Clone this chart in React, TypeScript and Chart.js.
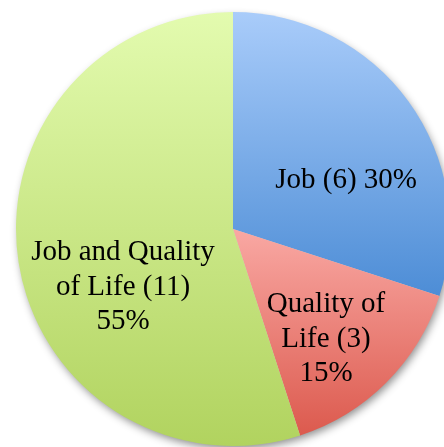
import React, { useEffect, useRef } from "react";
import { Chart, registerables } from "chart.js";

Chart.register(...registerables);

const categories = ["Job", "Quality of Life", "Job and Quality of Life"];
const counts = [6, 3, 11];
const percents = ["30%", "15%", "55%"];
const labelLines = [
  ["Job (6) 30%"],
  ["Quality of", "Life (3)", "15%"],
  ["Job and Quality", "of Life (11)", "55%"],
];
const gradientTop = ["#A9CCFA", "#F9A8A3", "#E3FBAF"];
const gradientBottom = ["#4D8DD6", "#DC5A4E", "#B1D35F"];
// label anchor: shift from slice mid-angle (degrees) and fraction of radius
const labelAngleShift = [12.6, 4.8, -18.8];
const labelRadiusFrac = [0.568, 0.664, 0.573];

function sliceYRange(a: any) {
  const { x, y, startAngle, endAngle, outerRadius } = a;
  const ys = [y, y + outerRadius * Math.sin(startAngle), y + outerRadius * Math.sin(endAngle)];
  const norm = (t: number) => {
    let v = t;
    while (v < startAngle) v += Math.PI * 2;
    return v;
  };
  if (norm(-Math.PI / 2) <= endAngle) ys.push(y - outerRadius);
  if (norm(Math.PI / 2) <= endAngle) ys.push(y + outerRadius);
  return [Math.min(...ys), Math.max(...ys)];
}

const gradientPlugin = {
  id: "sliceGradients",
  beforeDatasetsDraw(chart: any) {
    const meta = chart.getDatasetMeta(0);
    const ctx = chart.ctx;
    const first = meta.data[0];
    if (!first) return;
    // shadow under the whole pie
    ctx.save();
    ctx.shadowColor = "rgba(0,0,0,0.45)";
    ctx.shadowBlur = 9;
    ctx.shadowOffsetX = 2;
    ctx.shadowOffsetY = 4;
    ctx.fillStyle = "#cccccc";
    ctx.beginPath();
    ctx.arc(first.x, first.y, first.outerRadius - 1, 0, Math.PI * 2);
    ctx.fill();
    ctx.restore();
    meta.data.forEach((arc: any, i: number) => {
      const [y0, y1] = sliceYRange(arc);
      const g = ctx.createLinearGradient(0, y0, 0, y1);
      g.addColorStop(0, gradientTop[i]);
      g.addColorStop(1, gradientBottom[i]);
      arc.options.backgroundColor = g;
    });
  },
  afterDatasetsDraw(chart: any) {
    const meta = chart.getDatasetMeta(0);
    const ctx = chart.ctx;
    ctx.save();
    ctx.fillStyle = "#000000";
    ctx.font = '29px "Liberation Serif", "Times New Roman", serif';
    ctx.textAlign = "center";
    ctx.textBaseline = "middle";
    const lineH = 34.5;
    meta.data.forEach((arc: any, i: number) => {
      const mid = (arc.startAngle + arc.endAngle) / 2 + (labelAngleShift[i] * Math.PI) / 180;
      const r = arc.outerRadius * labelRadiusFrac[i];
      const cx = arc.x + r * Math.cos(mid);
      const cy = arc.y + r * Math.sin(mid);
      const lines = labelLines[i];
      const startY = cy - ((lines.length - 1) * lineH) / 2;
      lines.forEach((ln, k) => ctx.fillText(ln, cx, startY + k * lineH));
    });
    ctx.restore();
  },
};

export default function App() {
  const ref = useRef<HTMLCanvasElement | null>(null);
  useEffect(() => {
    document.body.style.margin = "0";
    document.body.style.overflow = "hidden";
    const chart = new Chart(ref.current as HTMLCanvasElement, {
      type: "pie",
      data: {
        labels: categories.map((c, i) => `${c} (${counts[i]}) ${percents[i]}`),
        datasets: [
          {
            data: counts,
            backgroundColor: gradientTop,
            borderWidth: 0,
          },
        ],
      },
      options: {
        responsive: false,
        animation: false,
        layout: { padding: 12 },
        plugins: {
          legend: { display: false },
          tooltip: { enabled: false },
        },
      },
      plugins: [gradientPlugin],
    });
    return () => chart.destroy();
  }, []);
  return (
    <div style={{ position: "fixed", left: 0, top: 0, width: 444, height: 447, overflow: "hidden", background: "#ffffff" }}>
      <canvas ref={ref} width={466} height={458} style={{ width: 466, height: 458, display: "block" }} />
    </div>
  );
}
